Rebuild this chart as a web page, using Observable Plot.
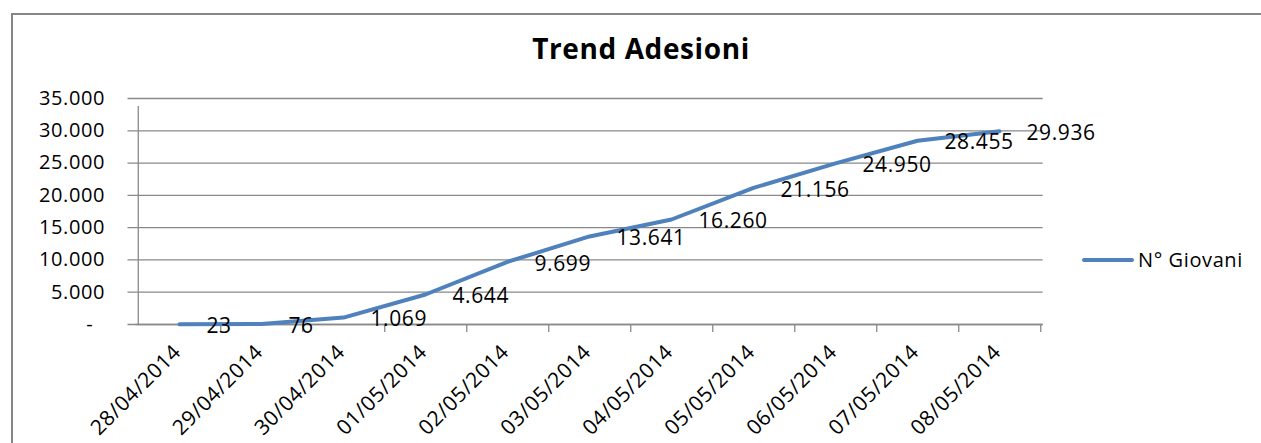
<!DOCTYPE html>
<html>
<head>
<meta charset="utf-8">
<script src="https://cdn.jsdelivr.net/npm/d3@7"></script>
<script src="https://cdn.jsdelivr.net/npm/@observablehq/plot@0.6"></script>
<style>
  html, body { margin: 0; padding: 0; background: #fff; }
  #wrap { position: relative; width: 1261px; height: 443px; overflow: hidden; font-family: "Open Sans", sans-serif; }
  #frame { position: absolute; left: 11px; top: 13px; right: -5px; bottom: -5px; border-top: 2px solid #868686; border-left: 2px solid #868686; }
  #chart { position: absolute; left: 0; top: 0; }
  #chart svg text { letter-spacing: 0.6px; }
  #title { position: absolute; left: 0; width: 1282px; top: 29px; text-align: center; font-weight: 700; font-size: 28px; letter-spacing: 0.6px; color: #000; }
  #legend { position: absolute; left: 1082px; top: 246px; display: flex; align-items: center; font-size: 20px; letter-spacing: 0.6px; color: #000; }
  #legend .sw { width: 52px; height: 4px; background: #4F81BD; border-radius: 2px; margin-right: 4px; }
</style>
</head>
<body>
<div id="wrap">
  <div id="frame"></div>
  <div id="chart"></div>
  <div id="title">Trend Adesioni</div>
  <div id="legend"><span class="sw"></span><span id="legendText"></span></div>
</div>
<script>
const dates = ["28/04/2014","29/04/2014","30/04/2014","01/05/2014","02/05/2014","03/05/2014","04/05/2014","05/05/2014","06/05/2014","07/05/2014","08/05/2014"];
const giovani = [23, 76, 1069, 4644, 9699, 13641, 16260, 21156, 24950, 28455, 29936];
const yTicks = [0, 5000, 10000, 15000, 20000, 25000, 30000, 35000];
const seriesName = "N° Giovani";

const data = dates.map((d, i) => ({date: d, value: giovani[i]}));
const it = d3.formatLocale({decimal: ",", thousands: ".", grouping: [3], currency: ["", "€"]});
const fmt = it.format(",d");
const yFmt = v => v === 0 ? "-\u00a0\u00a0" : fmt(v);

const W = 1261, H = 443, mL = 135.5, mR = 218.3, mT = 98, mB = 119;
const step = (W - mL - mR) / dates.length;
const grid = "#898989";

const chart = Plot.plot({
  width: W, height: H,
  marginLeft: mL, marginRight: mR, marginTop: mT, marginBottom: mB,
  style: {fontFamily: "Open Sans, sans-serif", fontSize: "20px", color: "#000", background: "transparent"},
  x: {type: "point", domain: dates, padding: 0.5, label: null},
  y: {domain: [0, 35000], label: null},
  marks: [
    Plot.gridY(yTicks, {stroke: grid, strokeOpacity: 1, strokeWidth: 1.3, insetLeft: -8}),
    Plot.axisY({ticks: yTicks, tickFormat: yFmt, tickSize: 0, tickPadding: 31, fontSize: 20, label: null}),
    Plot.ruleX([dates[0]], {y1: 0, y2: 35000, dx: -step / 2, stroke: grid, strokeWidth: 1.3, insetBottom: -8}),
    Plot.ruleX(dates, {y1: 0, y2: 0, dx: step / 2, stroke: grid, strokeWidth: 1.3, insetBottom: -8}),
    Plot.ruleY([0], {stroke: grid, strokeWidth: 1.3}),
    Plot.axisX({tickRotate: -45, tickSize: 0, tickPadding: 24, fontSize: 21, dx: -2, label: null}),
    Plot.line(data, {x: "date", y: "value", stroke: "#4F81BD", strokeWidth: 4, strokeLinejoin: "round", strokeLinecap: "round"}),
    Plot.text(data, {x: "date", y: "value", text: d => fmt(d.value), textAnchor: "start", dx: 27, dy: 2, fontSize: 21, fill: "#000"})
  ]
});
document.getElementById("chart").appendChild(chart);
document.getElementById("legendText").textContent = seriesName;
</script>
</body>
</html>
